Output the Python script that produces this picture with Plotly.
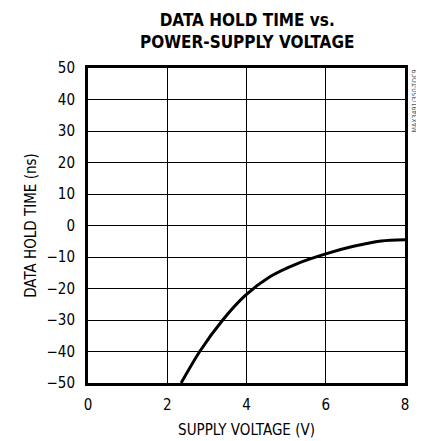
import plotly.graph_objects as go

supply_voltage = [2.35, 2.82, 3.40, 3.97, 4.6, 5.3, 6.0, 6.7, 7.4, 8.0]
hold_time = [-50.0, -40.0, -30.0, -22.2, -16.2, -12.0, -9.0, -6.6, -4.9, -4.5]

x_ticks = [0, 2, 4, 6, 8]
y_ticks = [50, 40, 30, 20, 10, 0, -10, -20, -30, -40, -50]

FONT = "DejaVu Sans Condensed, Liberation Sans Narrow, Arial Narrow, sans-serif"

fig = go.Figure()
fig.add_trace(go.Scatter(x=supply_voltage, y=hold_time, mode="lines",
                         line=dict(color="black", width=3, shape="spline", smoothing=0.8),
                         showlegend=False, hoverinfo="skip"))

fig.update_layout(
    width=416, height=433,
    margin=dict(l=80, r=19, t=60, b=58),
    paper_bgcolor="white", plot_bgcolor="white",
    font=dict(family=FONT, size=15, color="black"),
    xaxis=dict(range=[0, 8], tickvals=x_ticks, ticks="", showgrid=True,
               gridcolor="black", gridwidth=1, zeroline=False,
               showline=True, linecolor="black", linewidth=3, mirror=True,
               ticklabelstandoff=6, automargin=False,
               title=dict(text="SUPPLY VOLTAGE (V)", standoff=12,
                          font=dict(family=FONT, size=15)),
               tickfont=dict(family=FONT, size=15)),
    yaxis=dict(range=[-50, 50], tickvals=y_ticks, ticks="", showgrid=True,
               gridcolor="black", gridwidth=1, zeroline=False,
               showline=True, linecolor="black", linewidth=3, mirror=True,
               ticklabelstandoff=7, automargin=False,
               title=dict(text="DATA HOLD TIME (ns)", standoff=7,
                          font=dict(family=FONT, size=15)),
               tickfont=dict(family=FONT, size=15)),
    annotations=[
        dict(text="<b>DATA HOLD TIME vs.<br>POWER-SUPPLY VOLTAGE</b>",
             xref="paper", yref="paper", x=0.5, y=1.0, xanchor="center",
             yanchor="bottom", yshift=14, showarrow=False, align="center",
             font=dict(family=FONT, size=17, color="black")),
        dict(text="MAX3491/350-TOC9", xref="paper", yref="paper",
             x=1.0, y=1.0, xanchor="left", yanchor="top", xshift=3,
             textangle=-90, showarrow=False,
             font=dict(family=FONT, size=7, color="#555")),
    ],
)

fig.write_html("out.html")
